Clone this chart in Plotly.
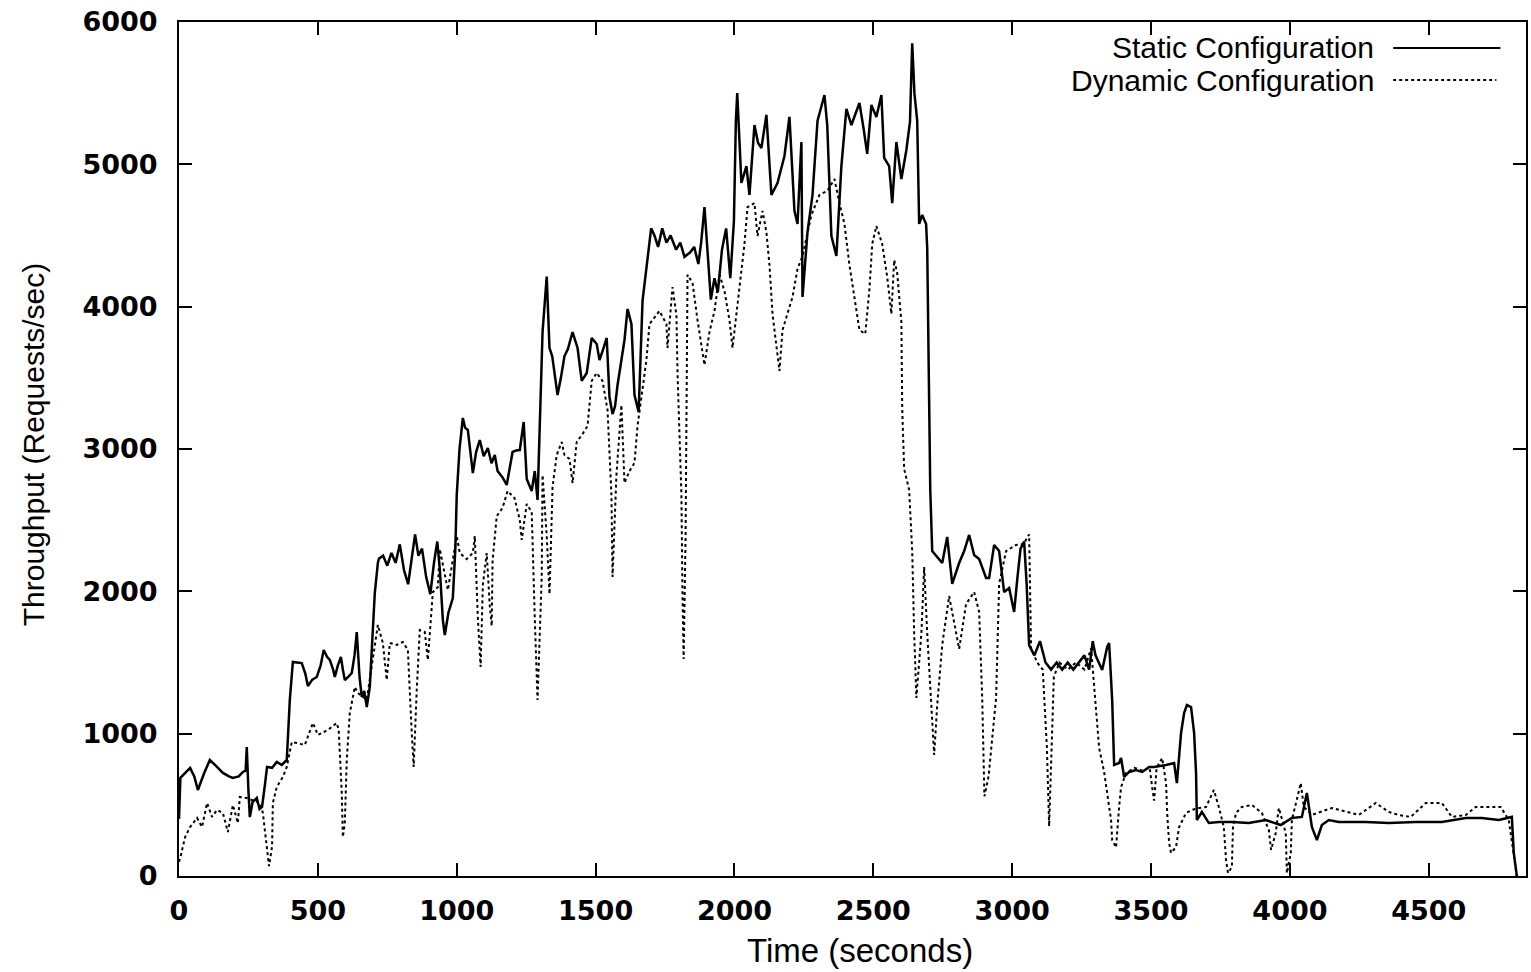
import plotly.graph_objects as go

# ---- data ----
static_t = [0, 5, 20, 40, 55, 68, 90, 111, 135, 158, 180, 194, 215, 230, 240, 244, 250, 255, 265, 280,
            290, 299, 310, 317, 335, 352, 370, 388, 399, 410, 425, 442, 455, 464, 480, 496, 510, 521, 533, 543,
            555, 561, 572, 583, 590, 597, 610, 622, 632, 640, 650, 658, 667, 676, 687, 698, 705, 716, 720, 735,
            750, 765, 780, 795, 810, 825, 840, 850, 862, 875, 890, 905, 918, 930, 939, 950, 957, 970, 986, 995,
            1000, 1010, 1022, 1030, 1040, 1050, 1058, 1070, 1083, 1097, 1112, 1125, 1137, 1147, 1165, 1180, 1190, 1201, 1214, 1227,
            1241, 1252, 1270, 1281, 1291, 1299, 1309, 1324, 1334, 1344, 1352, 1363, 1375, 1388, 1400, 1417, 1435, 1450, 1468, 1486,
            1504, 1514, 1527, 1540, 1550, 1561, 1570, 1579, 1593, 1604, 1615, 1629, 1640, 1655, 1669, 1687, 1700, 1712, 1725, 1740,
            1755, 1770, 1790, 1805, 1820, 1840, 1855, 1870, 1880, 1892, 1905, 1915, 1928, 1940, 1955, 1970, 1985, 1998, 2005, 2010,
            2025, 2043, 2054, 2072, 2085, 2097, 2115, 2133, 2155, 2169, 2180, 2198, 2216, 2227, 2241, 2245, 2255, 2263, 2281, 2299,
            2324, 2334, 2349, 2367, 2385, 2403, 2421, 2435, 2450, 2465, 2478, 2493, 2511, 2529, 2539, 2557, 2568, 2583, 2601, 2619,
            2632, 2640, 2648, 2658, 2665, 2676, 2690, 2694, 2701, 2705, 2712, 2730, 2748, 2766, 2784, 2809, 2827, 2845, 2863, 2881,
            2906, 2917, 2935, 2953, 2971, 2989, 3007, 3018, 3030, 3043, 3052, 3061, 3080, 3100, 3120, 3140, 3160, 3180, 3200, 3220,
            3240, 3260, 3277, 3290, 3300, 3313, 3324, 3342, 3349, 3360, 3367, 3385, 3392, 3403, 3421, 3446, 3468, 3493, 3511, 3554,
            3583, 3593, 3608, 3619, 3629, 3644, 3655, 3662, 3665, 3683, 3708, 3744, 3791, 3852, 3913, 3967, 4007, 4043, 4061, 4079,
            4097, 4115, 4140, 4176, 4273, 4356, 4453, 4547, 4633, 4691, 4752, 4799, 4806, 4817]
static_v = [400, 690, 720, 760, 700, 604, 720, 815, 770, 724, 700, 689, 700, 731, 740, 906, 600, 414, 520, 548,
            470, 485, 650, 766, 760, 801, 780, 815, 1237, 1504, 1500, 1496, 1420, 1335, 1380, 1398, 1480, 1588, 1540, 1518,
            1450, 1398, 1480, 1539, 1450, 1377, 1400, 1426, 1550, 1714, 1400, 1258, 1300, 1187, 1328, 1800, 1988, 2200, 2230, 2250,
            2180, 2270, 2200, 2330, 2150, 2050, 2250, 2400, 2250, 2300, 2100, 1980, 2200, 2350, 2157, 1800, 1693, 1850, 1953, 2300,
            2677, 3000, 3218, 3150, 3134, 2950, 2831, 2980, 3063, 2950, 3007, 2900, 2958, 2845, 2800, 2747, 2850, 2979, 2990, 2993,
            3190, 2789, 2705, 2845, 2642, 3105, 3822, 4211, 3710, 3650, 3534, 3379, 3500, 3653, 3700, 3822, 3710, 3478, 3534, 3780,
            3738, 3625, 3700, 3780, 3365, 3246, 3300, 3450, 3625, 3766, 3984, 3878, 3379, 3260, 4040, 4314, 4550, 4500, 4420, 4550,
            4450, 4500, 4400, 4450, 4350, 4380, 4420, 4300, 4450, 4700, 4350, 4050, 4200, 4100, 4400, 4550, 4200, 4600, 5300, 5500,
            4869, 4988, 4785, 5276, 5150, 5115, 5347, 4785, 4869, 4988, 5059, 5333, 4673, 4581, 5157, 4068, 4300, 4525, 4785, 5305,
            5487, 5276, 4497, 4356, 4988, 5389, 5276, 5350, 5431, 5250, 5073, 5417, 5333, 5487, 5045, 4988, 4728, 5157, 4897, 5101,
            5300, 5850, 5500, 5305, 4581, 4644, 4581, 4412, 3436, 2712, 2283, 2241, 2199, 2382, 2052, 2199, 2283, 2396, 2255, 2227,
            2094, 2094, 2326, 2283, 1995, 2023, 1855, 2080, 2300, 2350, 2050, 1620, 1550, 1650, 1500, 1450, 1500, 1450, 1500, 1450,
            1500, 1550, 1450, 1650, 1550, 1496, 1447, 1609, 1637, 1237, 780, 794, 829, 696, 731, 745, 731, 766, 766, 780,
            794, 653, 1005, 1145, 1201, 1187, 1005, 724, 393, 450, 372, 379, 379, 372, 393, 358, 408, 415, 583, 344,
            253, 358, 393, 379, 379, 372, 379, 379, 408, 408, 393, 415, 162, 0]

dynamic_t = [0, 7, 22, 40, 65, 83, 101, 119, 137, 158, 176, 194, 212, 219, 244, 266, 291, 302, 317, 324,
             335, 338, 352, 374, 388, 406, 424, 453, 482, 500, 536, 568, 575, 586, 590, 597, 604, 615, 633, 644,
             676, 698, 716, 734, 748, 759, 784, 806, 824, 838, 845, 856, 867, 885, 896, 914, 932, 939, 968, 1000,
             1011, 1036, 1058, 1065, 1076, 1086, 1094, 1108, 1119, 1126, 1129, 1144, 1165, 1183, 1208, 1227, 1234, 1252, 1270, 1281,
             1291, 1306, 1309, 1324, 1334, 1345, 1360, 1378, 1388, 1406, 1417, 1432, 1453, 1471, 1486, 1504, 1525, 1543, 1557, 1561,
             1575, 1593, 1604, 1622, 1640, 1651, 1669, 1683, 1694, 1730, 1755, 1759, 1777, 1791, 1795, 1809, 1813, 1817, 1824, 1827,
             1831, 1849, 1867, 1892, 1910, 1928, 1946, 1964, 1982, 1993, 2011, 2036, 2047, 2072, 2083, 2101, 2115, 2126, 2137, 2151,
             2162, 2173, 2191, 2209, 2227, 2245, 2277, 2306, 2334, 2360, 2378, 2396, 2414, 2432, 2450, 2471, 2486, 2496, 2511, 2532,
             2550, 2565, 2575, 2586, 2601, 2604, 2611, 2629, 2640, 2647, 2655, 2673, 2683, 2694, 2708, 2719, 2730, 2748, 2773, 2790,
             2809, 2834, 2863, 2881, 2892, 2900, 2915, 2942, 2953, 2978, 3014, 3040, 3061, 3068, 3090, 3110, 3125, 3133, 3140, 3150,
             3170, 3200, 3230, 3260, 3284, 3300, 3313, 3331, 3342, 3356, 3360, 3374, 3385, 3392, 3410, 3440, 3470, 3495, 3504, 3511,
             3520, 3540, 3554, 3558, 3565, 3572, 3590, 3601, 3626, 3647, 3673, 3698, 3726, 3744, 3762, 3770, 3777, 3791, 3795, 3806,
             3827, 3863, 3899, 3924, 3932, 3949, 3960, 3985, 3989, 4003, 4007, 4025, 4039, 4050, 4079, 4151, 4205, 4248, 4309, 4356,
             4392, 4435, 4489, 4547, 4583, 4633, 4669, 4723, 4759, 4788, 4806, 4817]
dynamic_v = [100, 148, 274, 344, 408, 344, 513, 415, 464, 443, 309, 499, 372, 555, 548, 534, 513, 443, 162, 70,
             204, 513, 625, 696, 766, 941, 934, 920, 1075, 991, 1026, 1075, 1026, 583, 274, 372, 815, 1145, 1328, 1286,
             1237, 1518, 1764, 1637, 1377, 1637, 1623, 1644, 1588, 1005, 766, 1307, 1728, 1714, 1518, 1995, 2030, 2297, 2009, 2389,
             2269, 2227, 2269, 2389, 1813, 1468, 2045, 2269, 1897, 1757, 2213, 2529, 2586, 2705, 2656, 2501, 2361, 2614, 2557, 1813,
             1237, 2101, 2817, 2389, 1981, 2733, 2958, 3049, 2958, 2930, 2761, 3049, 3105, 3162, 3478, 3534, 3478, 3274, 2677, 2101,
             2817, 3309, 2761, 2845, 2902, 3162, 3422, 3625, 3878, 3970, 3878, 3710, 4138, 3941, 3534, 2677, 1953, 1524, 2389, 3534,
             4225, 4166, 3906, 3590, 3822, 3970, 4225, 4110, 3906, 3710, 4026, 4440, 4700, 4728, 4497, 4673, 4525, 4293, 3949, 3724,
             3548, 3836, 3949, 4068, 4265, 4356, 4644, 4785, 4813, 4897, 4728, 4581, 4293, 4068, 3836, 3808, 4124, 4440, 4567, 4440,
             4208, 3949, 4328, 4236, 3892, 3288, 2860, 2712, 2283, 1707, 1251, 1707, 2171, 1707, 1251, 850, 1200, 1623, 1967, 1800,
             1595, 1911, 1995, 1855, 1251, 560, 700, 1251, 2052, 2283, 2326, 2330, 2400, 1600, 1500, 1450, 900, 350, 800, 1400,
             1500, 1450, 1500, 1450, 1600, 1200, 900, 731, 583, 393, 253, 200, 485, 625, 724, 760, 740, 760, 625, 530,
             760, 829, 653, 443, 232, 162, 204, 344, 443, 464, 478, 485, 604, 485, 344, 112, 20, 63, 344, 443,
             485, 499, 443, 323, 183, 302, 478, 302, 20, 162, 393, 534, 653, 485, 429, 478, 450, 429, 513, 450,
             429, 415, 513, 513, 415, 429, 485, 485, 485, 393, 162, 0]

x_ticks = [0, 500, 1000, 1500, 2000, 2500, 3000, 3500, 4000, 4500]
y_ticks = [0, 1000, 2000, 3000, 4000, 5000, 6000]
series_names = ["Static Configuration", "Dynamic Configuration"]
x_title = "Time (seconds)"
y_title = "Throughput (Requests/sec)"

fig = go.Figure()
fig.add_trace(go.Scatter(x=static_t, y=static_v, mode="lines", name=series_names[0],
                         line=dict(color="black", width=2.5), showlegend=False))
fig.add_trace(go.Scatter(x=dynamic_t, y=dynamic_v, mode="lines", name=series_names[1],
                         line=dict(color="black", width=2, dash="3px,3px"), showlegend=False))

tick_font = dict(family="DejaVu Sans", size=27, color="black", weight="bold")
fig.update_xaxes(range=[0, 4850], tickvals=x_ticks, ticktext=[str(v) for v in x_ticks],
                 ticks="inside", ticklen=13, tickwidth=2, tickcolor="black",
                 showline=True, linecolor="black", linewidth=2, mirror="ticks",
                 showgrid=False, zeroline=False, tickfont=tick_font, ticklabelstandoff=10)
fig.update_yaxes(range=[0, 6000], tickvals=y_ticks, ticktext=[str(v) for v in y_ticks],
                 ticks="inside", ticklen=13, tickwidth=2, tickcolor="black",
                 showline=True, linecolor="black", linewidth=2, mirror="ticks",
                 showgrid=False, zeroline=False, tickfont=tick_font, ticklabelstandoff=14)

# legend drawn gnuplot-style: text right-aligned, line sample on the right
leg_font = dict(family="Liberation Sans", size=30, color="black")
annotations = [
    dict(text=series_names[0], xref="paper", yref="paper", x=0.889, y=0.9696,
         xanchor="right", yanchor="middle", showarrow=False, font=leg_font),
    dict(text=series_names[1], xref="paper", yref="paper", x=0.889, y=0.932,
         xanchor="right", yanchor="middle", showarrow=False, font=leg_font),
    dict(text=y_title, xref="paper", yref="paper", x=-0.108, y=0.505, textangle=-90,
         xanchor="center", yanchor="middle", showarrow=False,
         font=dict(family="Liberation Sans", size=30, color="black")),
    dict(text=x_title, xref="paper", yref="paper", x=0.5056, y=-0.0867,
         xanchor="center", yanchor="middle", showarrow=False,
         font=dict(family="Liberation Sans", size=33, color="black")),
]
shapes = [
    dict(type="line", xref="paper", yref="paper", x0=0.9014, x1=0.981, y0=0.9696, y1=0.9696,
         line=dict(color="black", width=2)),
    dict(type="line", xref="paper", yref="paper", x0=0.9014, x1=0.978, y0=0.932, y1=0.932,
         line=dict(color="black", width=2, dash="3px,3px")),
]

fig.update_layout(width=1531, height=972, autosize=False,
                  margin=dict(l=179, r=3, t=22, b=96),
                  paper_bgcolor="white", plot_bgcolor="white",
                  annotations=annotations, shapes=shapes)

fig.write_html("out.html", config={"displayModeBar": False})
